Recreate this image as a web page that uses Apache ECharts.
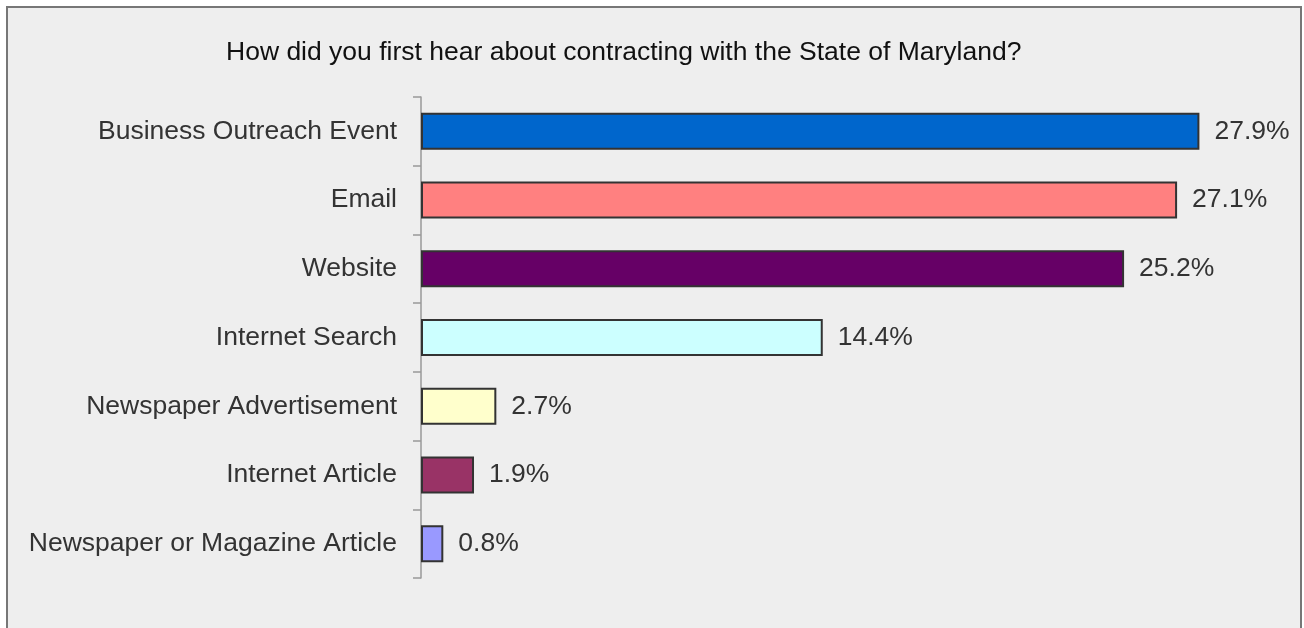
<!DOCTYPE html>
<html>
<head>
<meta charset="utf-8">
<script src="https://cdn.jsdelivr.net/npm/echarts@6/dist/echarts.min.js"></script>
<style>
  html, body { margin: 0; padding: 0; background: #ffffff; }
  #frame {
    position: absolute; left: 6px; top: 6px; width: 1292px; height: 640px;
    border: 2px solid #777777; background: #eeeeee;
  }
  #chart { position: absolute; left: 0; top: 0; width: 1304px; height: 628px; }
</style>
</head>
<body>
<div id="frame"></div>
<div id="chart"></div>
<script>
const titleText = 'How did you first hear about contracting with the State of Maryland?';
const categories = [
  'Business Outreach Event',
  'Email',
  'Website',
  'Internet Search',
  'Newspaper Advertisement',
  'Internet Article',
  'Newspaper or Magazine Article'
];
const values = [27.9, 27.1, 25.2, 14.4, 2.7, 1.9, 0.8];
const barColors = ['#0066cc', '#ff8080', '#660066', '#ccffff', '#ffffcc', '#993366', '#9999ff'];

const FONT = '"Liberation Sans", Arial, sans-serif';

const chart = echarts.init(document.getElementById('chart'), null, { renderer: 'canvas' });
chart.setOption({
  backgroundColor: 'transparent',
  animation: false,
  textStyle: { fontFamily: FONT },
  title: {
    text: titleText,
    left: 221, top: 34,
    textStyle: { fontFamily: FONT, fontSize: 26.5, fontWeight: 'normal', color: '#111111' }
  },
  grid: { left: 421, right: 46, top: 97, bottom: 50, containLabel: false },
  xAxis: {
    type: 'value', min: 0, max: 30, show: false
  },
  yAxis: {
    type: 'category',
    data: categories,
    inverse: true,
    axisLine: { show: true, lineStyle: { color: '#999999', width: 1.5 } },
    axisTick: { show: true, length: 8, lineStyle: { color: '#999999', width: 1.5 } },
    axisLabel: { fontFamily: FONT, fontSize: 26.5, color: '#333333', margin: 24 },
    splitLine: { show: false }
  },
  series: [{
    type: 'bar',
    data: values.map((v, i) => ({ value: v, itemStyle: { color: barColors[i] } })),
    barWidth: 37,
    itemStyle: { borderColor: '#333333', borderWidth: 2 },
    label: {
      show: true, position: 'right', distance: 15,
      formatter: p => p.value.toFixed(1) + '%',
      fontFamily: FONT, fontSize: 26.5, color: '#333333'
    }
  }]
});
</script>
</body>
</html>
